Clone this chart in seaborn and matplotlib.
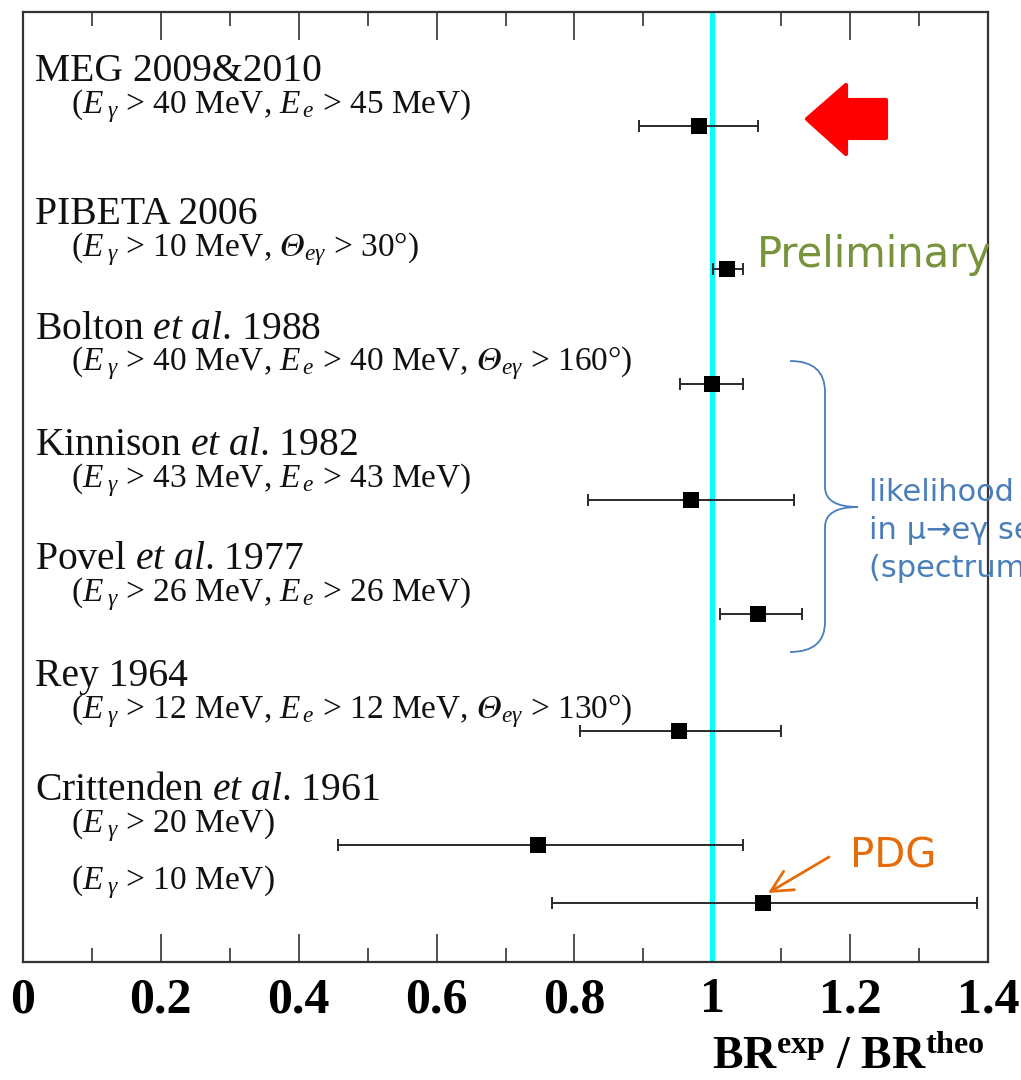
import numpy as np
import pandas as pd
import matplotlib
matplotlib.use("Agg")
import matplotlib.pyplot as plt
import seaborn as sns
from matplotlib.patches import Polygon, PathPatch
from matplotlib.path import Path

# ---------------- data ----------------
titles = ["MEG 2009&2010", "PIBETA 2006", r"Bolton $\mathit{et\ al}$. 1988",
          r"Kinnison $\mathit{et\ al}$. 1982", r"Povel $\mathit{et\ al}$. 1977",
          "Rey 1964", r"Crittenden $\mathit{et\ al}$. 1961", ""]
cuts = [r"($E_{\;\gamma}$ > 40 MeV, $E_{\,e}$ > 45 MeV)",
        r"($E_{\;\gamma}$ > 10 MeV, $𝛩_{e\gamma}$ > 30°)",
        r"($E_{\;\gamma}$ > 40 MeV, $E_{\,e}$ > 40 MeV, $𝛩_{e\gamma}$ > 160°)",
        r"($E_{\;\gamma}$ > 43 MeV, $E_{\,e}$ > 43 MeV)",
        r"($E_{\;\gamma}$ > 26 MeV, $E_{\,e}$ > 26 MeV)",
        r"($E_{\;\gamma}$ > 12 MeV, $E_{\,e}$ > 12 MeV, $𝛩_{e\gamma}$ > 130°)",
        r"($E_{\;\gamma}$ > 20 MeV)",
        r"($E_{\;\gamma}$ > 10 MeV)"]
ratio = [0.980, 1.021, 0.999, 0.969, 1.067, 0.952, 0.747, 1.073]
err_lo = [0.893, 1.001, 0.953, 0.820, 1.011, 0.808, 0.457, 0.767]
err_hi = [1.066, 1.044, 1.044, 1.119, 1.130, 1.100, 1.045, 1.384]
row = [1.0, 2.25, 3.25, 4.27, 5.27, 6.29, 7.29, 7.79]
xtick_vals = [0, 0.2, 0.4, 0.6, 0.8, 1.0, 1.2, 1.4]
xtick_labels = ["0", "0.2", "0.4", "0.6", "0.8", "1", "1.2", "1.4"]

df = pd.DataFrame({"ratio": ratio, "lo": err_lo, "hi": err_hi, "row": row})

# ---------------- style ----------------
sns.set_theme(style="white")
plt.rcParams["font.family"] = ["Liberation Serif", "DejaVu Serif"]
plt.rcParams["mathtext.fontset"] = "custom"
plt.rcParams["mathtext.rm"] = "Liberation Serif"
plt.rcParams["mathtext.it"] = "Liberation Serif:italic"
plt.rcParams["mathtext.bf"] = "Liberation Serif:bold"
plt.rcParams["mathtext.fallback"] = "stix"
plt.rcParams["text.color"] = "black"
plt.rcParams["xtick.color"] = "black"
plt.rcParams["xtick.labelcolor"] = "black"

W, H = 1021, 1080
fig = plt.figure(figsize=(W / 100, H / 100), dpi=100)
ax = fig.add_axes([23 / W, 1 - 962 / H, (988 - 23) / W, (962 - 12) / H])

def px(x, y):
    return (x / 100.0, (H - y) / 100.0)

inch = fig.dpi_scale_trans

# reference line
ax.axvline(1.0, color="#00FFFF", lw=3.6, zorder=1)

# error bars and points
ax.errorbar(df["ratio"], df["row"],
            xerr=[df["ratio"] - df["lo"], df["hi"] - df["ratio"]],
            fmt="none", ecolor="#2a2a2a", elinewidth=1.4, capsize=4.5, capthick=1.4, zorder=3)
sns.scatterplot(data=df, x="ratio", y="row", marker="s", s=118, color="black",
                linewidth=0, zorder=4, ax=ax, legend=False)

ax.set_xlim(0, 1.4)
ax.set_ylim(8.31, 0)
ax.set_ylabel("")
ax.set_xlabel("")
ax.set_yticks([])
ax.set_xticks(xtick_vals)
ax.set_xticklabels(xtick_labels, fontsize=36, fontweight="bold", color="black")
ax.set_xticks(np.arange(0.1, 1.4, 0.2), minor=True)
ax.tick_params(axis="x", which="major", direction="in", length=20, width=1.2,
               color="#333333", top=True, bottom=True, pad=11)
ax.tick_params(axis="x", which="minor", direction="in", length=10, width=1.2,
               color="#333333", top=True, bottom=True)
for sp in ax.spines.values():
    sp.set_color("#333333")
    sp.set_linewidth(1.6)
ax.grid(False)

# row labels
for t, c, yv in zip(titles, cuts, row):
    if t:
        ax.annotate(t, xy=(0.0167, yv), xytext=(0, 32.4), textcoords="offset points",
                    fontsize=28.5, va="baseline", ha="left", color="#111111")
    ax.annotate(c, xy=(0.069, yv), xytext=(0, 9.4), textcoords="offset points",
                fontsize=24, va="baseline", ha="left", color="#111111")

# x label
fig.text(985 / W, 1 - 1069 / H,
         r"$\mathbf{BR}^{\mathbf{exp}}$ / $\mathbf{BR}^{\mathbf{theo}}$",
         fontsize=33, fontweight="bold", ha="right", va="baseline")

# red arrow
arrow_pts = [px(807, 119), px(846, 85), px(846, 100), px(886, 100),
             px(886, 138), px(846, 138), px(846, 154)]
fig.patches.append(Polygon(arrow_pts, closed=True, facecolor="#FF0000", edgecolor="#FF0000",
                           lw=3, joinstyle="round", transform=inch, figure=fig))

# Preliminary
fig.text(*px(757, 267), "Preliminary", transform=inch, fontsize=30, color="#77933C",
         family="DejaVu Sans", ha="left", va="baseline")

# blue brace
verts = [px(790, 361), px(825, 361), px(825, 392), px(825, 487), px(825, 507), px(858, 507),
         px(825, 507), px(825, 527), px(825, 622), px(825, 652), px(790, 652)]
codes = [Path.MOVETO, Path.CURVE3, Path.CURVE3, Path.LINETO, Path.CURVE3, Path.CURVE3,
         Path.CURVE3, Path.CURVE3, Path.LINETO, Path.CURVE3, Path.CURVE3]
fig.patches.append(PathPatch(Path(verts, codes), facecolor="none", edgecolor="#4A7EBB",
                             lw=1.3, transform=inch, figure=fig))
blue_lines = ["likelihood analysis", "in μ→eγ search", "(spectrum fit)"]
for i, s in enumerate(blue_lines):
    fig.text(*px(869, 501 + 38 * i), s, transform=inch, fontsize=22, color="#4A7EBB",
             family="DejaVu Sans", ha="left", va="baseline")

# PDG
fig.text(*px(850, 868), "PDG", transform=inch, fontsize=29, color="#E46C0A",
         family="DejaVu Sans", ha="left", va="baseline")
ax.annotate("", xy=px(768, 893), xycoords=inch, xytext=px(829, 857), textcoords=inch,
            arrowprops=dict(arrowstyle="->,head_length=0.7,head_width=0.35",
                            color="#E46C0A", lw=2, mutation_scale=22, shrinkA=0, shrinkB=0))

fig.savefig("out.png", dpi=100)
